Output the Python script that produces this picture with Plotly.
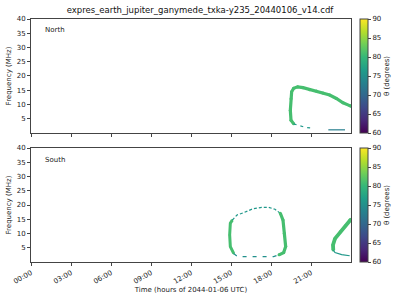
import plotly.graph_objects as go
from plotly.subplots import make_subplots
from plotly.colors import sample_colorscale

TITLE = "expres_earth_jupiter_ganymede_txka-y235_20440106_v14.cdf"
tick_hours = [0, 3, 6, 9, 12, 15, 18, 21]
tick_labels = ["00:00", "03:00", "06:00", "09:00", "12:00", "15:00", "18:00", "21:00"]
freq_ticks = [5, 10, 15, 20, 25, 30, 35, 40]
theta_ticks = [60, 65, 70, 75, 80, 85, 90]

# North hemisphere segments (time in hours, frequency in MHz, theta in degrees)
north_main_t = [19.7, 19.5, 19.45, 19.5, 19.55, 19.7, 20.0, 20.4, 20.9, 21.4, 21.9, 22.4, 22.9, 23.4, 23.9, 24.0]
north_main_f = [3.2, 4.5, 8.0, 12.0, 14.5, 15.7, 16.2, 15.9, 15.2, 14.7, 14.0, 13.3, 12.1, 10.6, 9.6, 9.4]
north_main_theta = 81
north_tail_t = [19.7, 20.05, 20.55, 21.05]
north_tail_f = [3.2, 2.6, 2.0, 1.7]
north_tail_theta = 76
north_low_t = [22.3, 23.55]
north_low_f = [1.1, 1.1]
north_low_theta = 73

# South hemisphere segments
south_left_t = [15.2, 14.95, 14.9, 14.95, 15.1]
south_left_f = [3.0, 5.4, 9.5, 13.6, 14.7]
south_left_theta = 81
south_arc_t = [15.1, 15.45, 15.95, 16.6, 17.3, 17.8, 18.3, 18.7]
south_arc_f = [14.7, 16.5, 17.3, 18.6, 19.2, 19.2, 18.5, 17.1]
south_arc_theta = 76
south_right_t = [18.7, 18.9, 19.0, 19.1, 18.95, 18.6]
south_right_f = [17.1, 14.7, 10.1, 5.4, 3.3, 2.5]
south_right_theta = 81
south_bottom_t = [15.2, 15.5, 18.2, 18.6]
south_bottom_f = [3.0, 1.9, 1.9, 2.5]
south_bottom_theta = 75
south_rise_t = [22.67, 22.65, 22.8, 23.2, 23.6, 23.9, 24.0]
south_rise_f = [4.2, 6.0, 8.2, 10.6, 12.8, 14.6, 15.0]
south_rise_theta = 81
south_rtail_t = [22.67, 22.8, 23.3, 23.9]
south_rtail_f = [4.2, 3.3, 2.6, 2.2]
south_rtail_theta = 76

CMIN, CMAX = 60, 90
FONT = "DejaVu Sans"

fig = make_subplots(rows=2, cols=1, shared_xaxes=True)


def seg(t, f, theta, row, width, dash="solid", msize=None):
    col = sample_colorscale("Viridis", [(theta - CMIN) / (CMAX - CMIN)])[0]
    if msize:
        fig.add_trace(go.Scatter(
            x=t, y=f, mode="lines+markers",
            line=dict(color=col, width=width, dash=dash),
            marker=dict(size=msize, color=[theta] * len(t),
                        coloraxis="coloraxis" if row == 1 else "coloraxis2"),
            showlegend=False, hoverinfo="skip"), row=row, col=1)
    else:
        fig.add_trace(go.Scatter(
            x=t, y=f, mode="lines",
            line=dict(color=col, width=width, dash=dash),
            showlegend=False, hoverinfo="skip"), row=row, col=1)


seg(north_main_t, north_main_f, north_main_theta, 1, 3.2, msize=3)
seg(north_tail_t, north_tail_f, north_tail_theta, 1, 1.2, dash="3px,4px")
seg(north_low_t, north_low_f, north_low_theta, 1, 1.2)

seg(south_left_t, south_left_f, south_left_theta, 2, 3, msize=2)
seg(south_arc_t, south_arc_f, south_arc_theta, 2, 1.2, dash="3px,2px")
seg(south_right_t, south_right_f, south_right_theta, 2, 3.2, msize=3)
seg(south_bottom_t, south_bottom_f, south_bottom_theta, 2, 1.2, dash="4px,6px")
seg(south_rise_t, south_rise_f, south_rise_theta, 2, 3.8, msize=3)
seg(south_rtail_t, south_rtail_f, south_rtail_theta, 2, 1.2)

axis_common = dict(showline=True, linecolor="#444", linewidth=1, mirror=True,
                   ticks="outside", ticklen=3, tickcolor="#444", showgrid=False,
                   zeroline=False, tickfont=dict(size=7, family=FONT, color="#222"))

fig.update_xaxes(range=[0, 24], tickvals=tick_hours, ticktext=tick_labels, **axis_common)
fig.update_xaxes(showticklabels=False, row=1, col=1)
fig.update_xaxes(tickangle=-30, row=2, col=1,
                 title=dict(text="Time (hours of 2044-01-06 UTC)", font=dict(size=7, family=FONT, color="#222"), standoff=2))
fig.update_yaxes(range=[0, 40], tickvals=freq_ticks, **axis_common,
                 title=dict(text="Frequency (MHz)", font=dict(size=7, family=FONT, color="#222"), standoff=4))

cb_common = dict(thickness=8, lenmode="fraction", len=0.469, x=1.028, xanchor="left",
                 yanchor="top", xpad=0, ypad=0, tickvals=theta_ticks, ticks="outside", ticklen=3,
                 tickfont=dict(size=7, family=FONT, color="#222"), outlinewidth=1,
                 outlinecolor="#444",
                 title=dict(text="θ (degrees)", side="right", font=dict(size=7, family=FONT, color="#222")))

fig.update_layout(
    width=400, height=300,
    margin=dict(l=31, r=49, t=19, b=38, autoexpand=False),
    paper_bgcolor="white", plot_bgcolor="white",
    font=dict(family=FONT, size=7, color="#222"),
    title=dict(text=TITLE, x=0.5, xref="container", xanchor="center", y=1 - 10 / 300, yanchor="middle",
               font=dict(size=8.5, family=FONT, color="#111")),
    coloraxis=dict(colorscale="Viridis", cmin=CMIN, cmax=CMAX, colorbar=dict(y=1.0, **cb_common)),
    coloraxis2=dict(colorscale="Viridis", cmin=CMIN, cmax=CMAX, colorbar=dict(y=0.469, **cb_common)),
    yaxis=dict(domain=[0.531, 1]),
    yaxis2=dict(domain=[0, 0.469]),
    annotations=[
        dict(text="North", x=0.037, y=0.956, xref="paper", yref="paper", xanchor="left",
             yanchor="middle", showarrow=False, font=dict(size=7, family=FONT, color="#222")),
        dict(text="South", x=0.037, y=0.42, xref="paper", yref="paper", xanchor="left",
             yanchor="middle", showarrow=False, font=dict(size=7, family=FONT, color="#222")),
    ],
)

fig.write_html("out.html")
